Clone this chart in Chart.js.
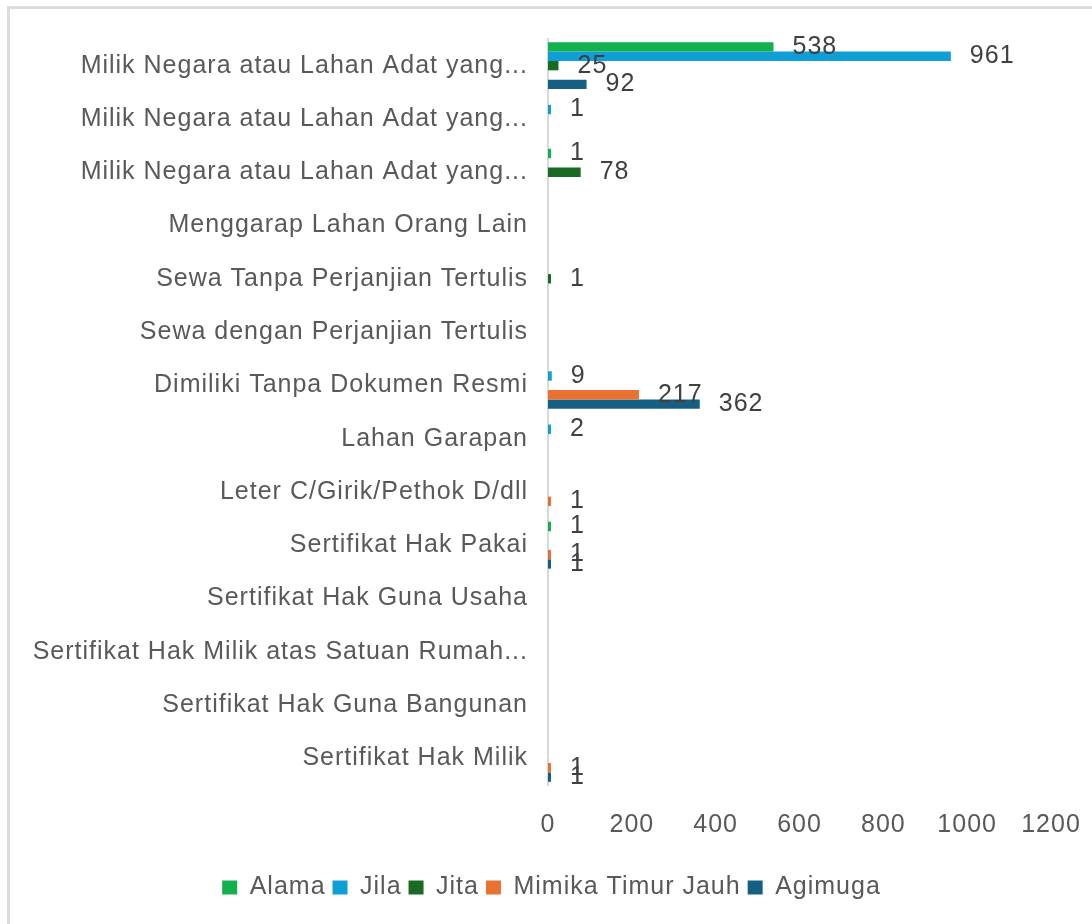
<!DOCTYPE html>
<html>
<head>
<meta charset="utf-8">
<script src="https://cdn.jsdelivr.net/npm/chart.js@4.4.1/dist/chart.umd.min.js"></script>
<style>
  html, body { margin: 0; padding: 0; background: #fff; }
  #wrap { position: relative; width: 1092px; height: 924px; overflow: hidden; }
  #frame { position: absolute; left: 7px; top: 6px; width: 1200px; height: 1000px;
           border-left: 3px solid #dcdcdc; border-top: 3px solid #dcdcdc; box-sizing: border-box; }
  #chart { position: absolute; left: 0; top: 0; }
</style>
</head>
<body>
<div id="wrap">
  <div id="frame"></div>
  <canvas id="chart" width="1092" height="924"></canvas>
</div>
<script>
// Categories, top to bottom
const categories = [
    'Milik Negara atau Lahan Adat yang...',
    'Milik Negara atau Lahan Adat yang...',
    'Milik Negara atau Lahan Adat yang...',
    'Menggarap Lahan Orang Lain',
    'Sewa Tanpa Perjanjian Tertulis',
    'Sewa dengan Perjanjian Tertulis',
    'Dimiliki Tanpa Dokumen Resmi',
    'Lahan Garapan',
    'Leter C/Girik/Pethok D/dll',
    'Sertifikat Hak Pakai',
    'Sertifikat Hak Guna Usaha',
    'Sertifikat Hak Milik atas Satuan Rumah...',
    'Sertifikat Hak Guna Bangunan',
    'Sertifikat Hak Milik'
];

// Series values (same order as categories), null = empty cell
const alama   = [538,  null, 1,    null, null, null, null, null, null, 1,    null, null, null, null];
const jila    = [961,  1,    null, null, null, null, 9,    2,    null, null, null, null, null, null];
const jita    = [25,   null, 78,   null, 1,    null, null, null, null, null, null, null, null, null];
const mimika  = [null, null, null, null, null, null, 217,  null, 1,    1,    null, null, null, 1];
const agimuga = [92,   null, null, null, null, null, 362,  null, null, 1,    null, null, null, 1];

const xTicks = [0, 200, 400, 600, 800, 1000, 1200];

const seriesNames  = ['Alama', 'Jila', 'Jita', 'Mimika Timur Jauh', 'Agimuga'];
const seriesData   = [alama, jila, jita, mimika, agimuga];
const seriesColors = ['#12b04f', '#0f9ed5', '#196b24', '#e97132', '#156082'];

const FONT = '"Liberation Sans", Arial, sans-serif';
const TEXT = '#595959';
const SPACING = '1px';

// the reference text is a bit wider, so open up letter spacing
const letterSpacing = {
    id: 'letterSpacing',
    beforeLayout(chart) { chart.ctx.letterSpacing = SPACING; },
    beforeDraw(chart) { chart.ctx.letterSpacing = SPACING; }
};

// legend in the reference sits a little right of the canvas centre
const legendShift = {
    id: 'legendShift',
    afterLayout(chart) { chart.legend.left += 52; }
};

// draw value labels right of every non-empty bar
const valueLabels = {
    id: 'valueLabels',
    afterDatasetsDraw(chart) {
        const ctx = chart.ctx;
        ctx.save();
        ctx.font = '25px ' + FONT;
        ctx.fillStyle = '#404040';
        ctx.textAlign = 'left';
        ctx.textBaseline = 'middle';
        chart.data.datasets.forEach((ds, i) => {
            const meta = chart.getDatasetMeta(i);
            meta.data.forEach((bar, j) => {
                const v = ds.data[j];
                if (v == null) return;
                ctx.fillText(String(v), bar.x + 19, bar.y);
            });
        });
        ctx.restore();
    }
};

new Chart(document.getElementById('chart'), {
    type: 'bar',
    data: {
        labels: categories,
        datasets: seriesNames.map((name, i) => ({
            label: name,
            data: seriesData[i],
            backgroundColor: seriesColors[i],
            borderWidth: 0,
            minBarLength: 3,
            categoryPercentage: 0.88,
            barPercentage: 1
        }))
    },
    options: {
        indexAxis: 'y',
        responsive: false,
        animation: false,
        layout: { padding: { top: 39, right: 41, left: 0, bottom: 14 } },
        scales: {
            x: {
                min: 0,
                max: 1200,
                afterBuildTicks: (scale) => { scale.ticks = xTicks.map(v => ({ value: v })); },
                afterFit: (scale) => { scale.height = 83; scale.paddingRight = 0; scale.paddingLeft = 0; },
                grid: { display: false, drawTicks: false },
                border: { display: false },
                ticks: {
                    color: TEXT, font: { family: FONT, size: 25 }, padding: 25, maxRotation: 0,
                    callback: (v) => String(v)
                }
            },
            y: {
                afterFit: (scale) => { scale.width = 548; },
                grid: { display: false, drawTicks: false },
                border: { display: true, color: '#d9d9d9', width: 2 },
                ticks: { color: TEXT, font: { family: FONT, size: 25 }, padding: 20, autoSkip: false }
            }
        },
        plugins: {
            legend: {
                position: 'bottom',
                labels: {
                    color: TEXT,
                    font: { family: FONT, size: 25 },
                    boxWidth: 15,
                    boxHeight: 14,
                    padding: 7
                }
            },
            tooltip: { enabled: false }
        }
    },
    plugins: [letterSpacing, legendShift, valueLabels]
});
</script>
</body>
</html>
